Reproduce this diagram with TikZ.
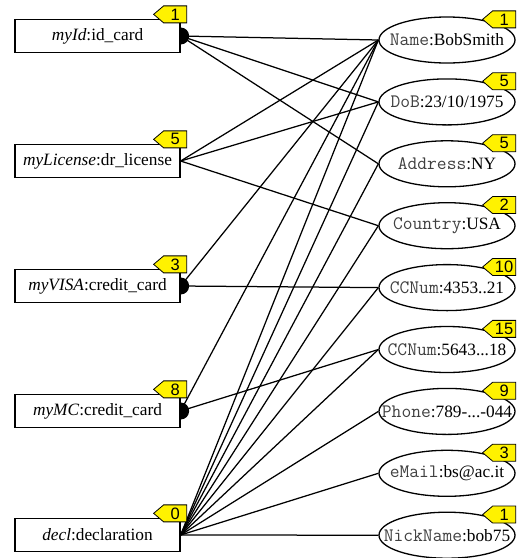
\documentclass[tikz,border=0pt]{standalone}
\usepackage{fontspec}
\setmainfont{Liberation Serif}
\newfontfamily\tagfont{Liberation Sans}
\usetikzlibrary{shapes.geometric,calc}
\tikzset{
  objbox/.style={draw, line width=1.3pt, fill=white, minimum width=165pt,
    minimum height=33pt, inner sep=0pt, font=\fontsize{17.3}{20}\selectfont},
  attr/.style={draw, ellipse, line width=1.3pt, fill=white, minimum width=136pt,
    minimum height=46pt, inner sep=0pt, font=\fontsize{17.3}{20}\selectfont},
  link/.style={line width=1.25pt},
  tagfill/.style={draw, line width=0.8pt, fill=yellow},
  tagtext/.style={inner sep=0pt, font=\tagfont\fontsize{16.5}{16}\selectfont},
  port/.style={fill=black},
}
% attribute label: monospaced key, serif value
\newcommand\fld[2]{\makebox[0pt][c]{{\fontsize{19}{20}\selectfont\ttfamily\color{black!75}#1}:#2}}
% yellow pointer tag; #2 is the middle of its right edge
\newcommand\numtag[3]{%
  \path[tagfill] (#2) ++(0,-8.5) -- ++(-23,0) -- ++(-10,8.5) -- ++(10,8.5) -- ++(23,0) -- cycle;
  \node[tagtext] (#1) at ($(#2)+(-11.5,0)$) {#3};}
\newcommand\boxtag[3]{\numtag{#1}{$(#2.north east)+(6,-4.5)$}{#3}}
\newcommand\elltag[3]{\numtag{#1}{$(#2.east |- #2.north)+(0,3)$}{#3}}
\newcommand\halfdisc[1]{\fill[port] (#1.east) ++(0,-8.5) arc[start angle=-90, end angle=90, radius=8.5] -- cycle;}

\begin{document}
\begin{tikzpicture}[x=1pt, y=-1pt]
\useasboundingbox (0,0) rectangle (517,558);

% objects
\path
  node[objbox] (id)  at (97.5,36)  {\textit{myId}:id\_card}
  node[objbox] (lic) at (97.5,161) {\textit{myLicense}:dr\_license}
  node[objbox] (vis) at (97.5,286) {\textit{myVISA}:credit\_card}
  node[objbox] (mc)  at (97.5,411) {\textit{myMC}:credit\_card}
  node[objbox] (dec) at (97.5,535) {\textit{decl}:declaration};

% attributes
\path
  node[attr] (name) at (447,40.0)  {\fld{Name}{BobSmith}}
  node[attr] (dob)  at (447,101.9) {\fld{DoB}{23/10/1975}}
  node[attr] (addr) at (447,163.8) {\fld{Address}{NY}}
  node[attr] (ctry) at (447,225.7) {\fld{Country}{USA}}
  node[attr] (cca)  at (447,287.6) {\fld{CCNum}{4353..21}}
  node[attr] (ccb)  at (447,349.5) {\fld{CCNum}{5643...18}}
  node[attr] (phon) at (447,411.4) {\fld{Phone}{789-...-044}}
  node[attr] (mail) at (447,473.3) {\fld{eMail}{bs@ac.it}}
  node[attr] (nick) at (447,535.2) {\fld{NickName}{bob75}};

% links
\draw[link] (id.east) -- (name.west);
\draw[link] (id.east) -- (dob.west);
\draw[link] (id.east) -- (addr.west);
\draw[link] (lic.east) -- (name.west);
\draw[link] (lic.east) -- (dob.west);
\draw[link] (lic.east) -- (ctry.west);
\draw[link] (vis.east) -- (name.west);
\draw[link] (vis.east) -- (cca.west);
\draw[link] (mc.east) -- (name.west);
\draw[link] (mc.east) -- (ccb.west);
\foreach \t in {name,dob,addr,ctry,cca,ccb,phon,mail,nick}
  \draw[link] (dec.east) -- (\t.west);

% ports
\halfdisc{id}
\halfdisc{vis}
\halfdisc{mc}

% counters
\boxtag{tid}{id}{1}
\boxtag{tlic}{lic}{5}
\boxtag{tvis}{vis}{3}
\boxtag{tmc}{mc}{8}
\boxtag{tdec}{dec}{0}
\elltag{tname}{name}{1}
\elltag{tdob}{dob}{5}
\elltag{taddr}{addr}{5}
\elltag{tctry}{ctry}{2}
\elltag{tcca}{cca}{10}
\elltag{tccb}{ccb}{15}
\elltag{tphon}{phon}{9}
\elltag{tmail}{mail}{3}
\elltag{tnick}{nick}{1}
\end{tikzpicture}
\end{document}
